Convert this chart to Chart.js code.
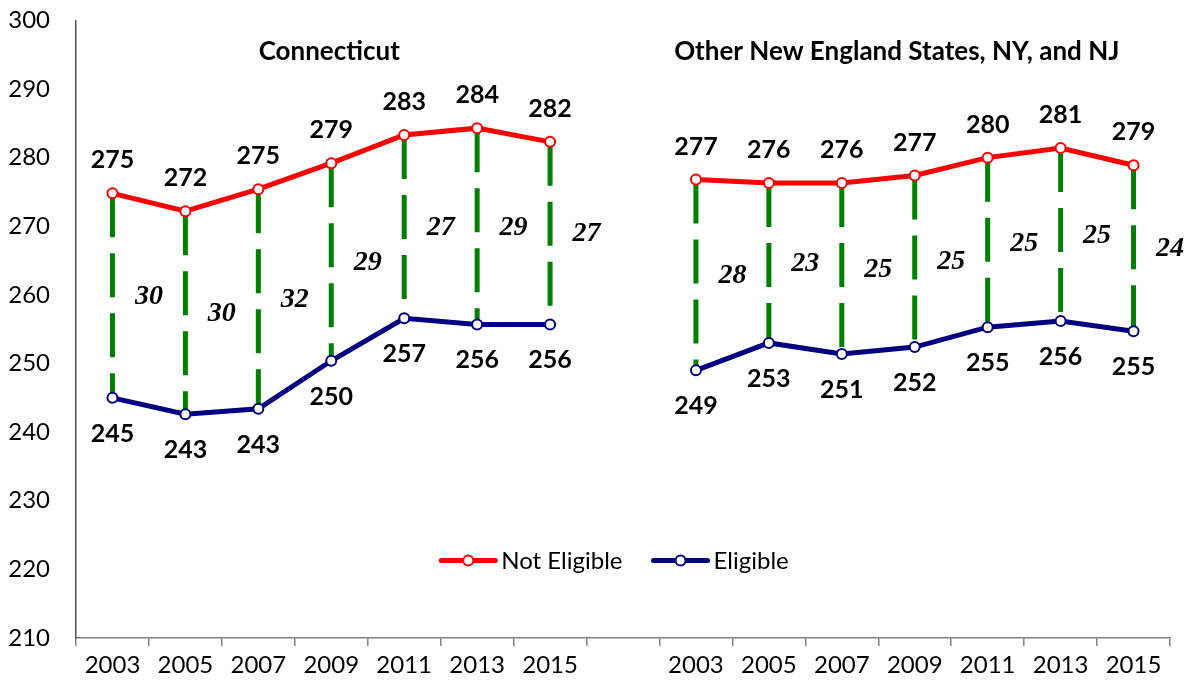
<!DOCTYPE html>
<html>
<head>
<meta charset="utf-8">
<script src="https://cdn.jsdelivr.net/npm/chart.js@4.4.1/dist/chart.umd.min.js"></script>
<style>
  html, body { margin: 0; padding: 0; background: #fff; }
  #wrap { width: 1195px; height: 685px; position: relative; }
</style>
</head>
<body>
<div id="wrap"><canvas id="c" width="1195" height="685"></canvas></div>
<script>
const categories = ['2003','2005','2007','2009','2011','2013','2015','','2003','2005','2007','2009','2011','2013','2015'];
const notEligible = [274.8, 272.2, 275.4, 279.2, 283.3, 284.3, 282.3, null, 276.8, 276.3, 276.3, 277.4, 280.0, 281.4, 278.9];
const eligible    = [245.0, 242.6, 243.4, 250.4, 256.6, 255.7, 255.7, null, 249.0, 253.0, 251.4, 252.4, 255.3, 256.2, 254.7];
const panelTitles = ['Connecticut', 'Other New England States, NY, and NJ'];
const seriesNames = ['Not Eligible', 'Eligible'];
const yTicks = [210, 220, 230, 240, 250, 260, 270, 280, 290, 300];

const RED = '#FF0000', NAVY = '#000080', GREEN = '#008000';
const SANS = 'Lato, "Open Sans", sans-serif';
const SERIF = '"Liberation Serif", "DejaVu Serif", serif';

const overlay = {
  id: 'overlay',
  beforeDatasetsDraw(chart) {
    const ctx = chart.ctx, x = chart.scales.x, y = chart.scales.y;
    ctx.save();
    ctx.strokeStyle = GREEN;
    ctx.lineWidth = 5;
    ctx.setLineDash([44, 16]);
    for (let i = 0; i < categories.length; i++) {
      if (notEligible[i] == null || eligible[i] == null) continue;
      const px = x.getPixelForValue(i);
      ctx.beginPath();
      ctx.moveTo(px, y.getPixelForValue(notEligible[i]));
      ctx.lineTo(px, y.getPixelForValue(eligible[i]));
      ctx.stroke();
    }
    ctx.restore();
  },
  afterDatasetsDraw(chart) {
    const ctx = chart.ctx, x = chart.scales.x, y = chart.scales.y, ca = chart.chartArea;
    const step = x.getPixelForValue(1) - x.getPixelForValue(0);
    ctx.save();
    ctx.textAlign = 'center';
    ctx.textBaseline = 'middle';
    ctx.fillStyle = '#000';
    // value labels
    ctx.font = 'bold 25px ' + SANS;
    for (let i = 0; i < categories.length; i++) {
      if (notEligible[i] != null) {
        ctx.fillText(String(Math.round(notEligible[i])), x.getPixelForValue(i), y.getPixelForValue(notEligible[i]) - 33);
      }
      if (eligible[i] != null) {
        ctx.fillText(String(Math.round(eligible[i])), x.getPixelForValue(i), y.getPixelForValue(eligible[i]) + 36);
      }
    }
    // gap labels
    ctx.font = 'italic bold 28px ' + SERIF;
    for (let i = 0; i < categories.length; i++) {
      if (notEligible[i] == null || eligible[i] == null) continue;
      const gap = Math.round(notEligible[i] - eligible[i]);
      const mid = (notEligible[i] + eligible[i]) / 2;
      ctx.fillText(String(gap), x.getPixelForValue(i) + step / 2, y.getPixelForValue(mid) + 1);
    }
    // panel titles
    ctx.font = 'bold 26px ' + SANS;
    ctx.fillText(panelTitles[0], (x.getPixelForValue(0) + x.getPixelForValue(6)) / 2 - 2, ca.top + 31);
    ctx.fillText(panelTitles[1], (x.getPixelForValue(8) + x.getPixelForValue(14)) / 2 - 18, ca.top + 31);
    // legend
    ctx.font = '24px ' + SANS;
    const lineLen = 54, gapTxt = 6, gapItem = 31;
    const w0 = ctx.measureText(seriesNames[0]).width, w1 = ctx.measureText(seriesNames[1]).width;
    const total = lineLen + gapTxt + w0 + gapItem + lineLen + gapTxt + w1;
    let lx = 615 - total / 2;
    const ly = ca.top + 540;
    const colors = [RED, NAVY];
    const widths = [w0, w1];
    ctx.textAlign = 'left';
    for (let k = 0; k < 2; k++) {
      ctx.strokeStyle = colors[k];
      ctx.lineWidth = 5;
      ctx.lineCap = 'round';
      ctx.beginPath(); ctx.moveTo(lx, ly); ctx.lineTo(lx + lineLen, ly); ctx.stroke();
      ctx.beginPath(); ctx.arc(lx + lineLen / 2, ly, 5, 0, Math.PI * 2);
      ctx.fillStyle = '#fff'; ctx.fill();
      ctx.lineWidth = 2; ctx.stroke();
      ctx.fillStyle = '#000';
      ctx.fillText(seriesNames[k], lx + lineLen + gapTxt, ly + 1);
      lx += lineLen + gapTxt + widths[k] + gapItem;
    }
    ctx.restore();
  }
};

new Chart(document.getElementById('c'), {
  type: 'line',
  data: {
    labels: categories,
    datasets: [
      { label: seriesNames[0], data: notEligible, borderColor: RED, borderWidth: 5,
        pointRadius: 5, pointBorderWidth: 2, pointBackgroundColor: '#fff', pointBorderColor: RED,
        tension: 0, spanGaps: false },
      { label: seriesNames[1], data: eligible, borderColor: NAVY, borderWidth: 5,
        pointRadius: 5, pointBorderWidth: 2, pointBackgroundColor: '#fff', pointBorderColor: NAVY,
        tension: 0, spanGaps: false }
    ]
  },
  options: {
    responsive: false,
    animation: false,
    events: [],
    layout: { padding: { top: 0, right: 25, left: 0, bottom: 0 } },
    plugins: { legend: { display: false }, tooltip: { enabled: false }, title: { display: false } },
    scales: {
      x: {
        type: 'category',
        offset: true,
        grid: { display: true, offset: true, drawOnChartArea: false, drawTicks: true, tickLength: 8, color: '#808080', lineWidth: 1.5 },
        border: { display: true, color: '#808080', width: 1.5 },
        ticks: { font: { family: SANS, size: 24 }, color: '#000', padding: 5, maxRotation: 0, autoSkip: false },
        afterFit(s) { s.height = 47; }
      },
      y: {
        min: 210, max: 300,
        afterBuildTicks(s) { s.ticks = yTicks.map(v => ({ value: v })); },
        grid: { display: true, drawOnChartArea: false, drawTicks: true, tickLength: 20, tickColor: 'rgba(0,0,0,0)' },
        border: { display: true, color: '#555', width: 1.5 },
        ticks: { font: { family: SANS, size: 24 }, color: '#000', padding: 6 },
        afterFit(s) { s.width = 76; }
      }
    }
  },
  plugins: [overlay]
});
</script>
</body>
</html>
